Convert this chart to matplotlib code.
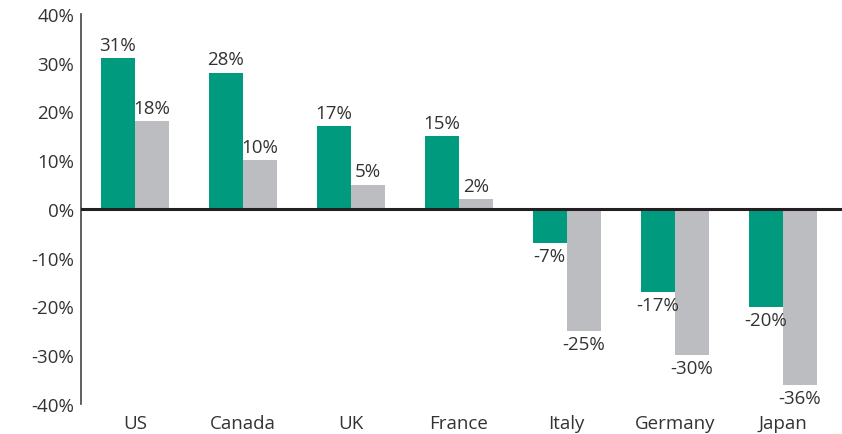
import matplotlib
matplotlib.use("Agg")
import matplotlib.pyplot as plt
import numpy as np

categories = ["US", "Canada", "UK", "France", "Italy", "Germany", "Japan"]
series_green = [31, 28, 17, 15, -7, -17, -20]
series_grey = [18, 10, 5, 2, -25, -30, -36]
yticks = [-40, -30, -20, -10, 0, 10, 20, 30, 40]

plt.rcParams['font.family'] = ['Open Sans', 'DejaVu Sans']
text_color = '#333333'
fs = 13.5

fig = plt.figure(figsize=(8.42, 4.35), dpi=100)
ax = fig.add_axes([81 / 842, 1 - 405 / 435, 1 - 81 / 842, (405 - 15) / 435])

x = np.arange(len(categories))
w = 0.315
b1 = ax.bar(x - w / 2, series_green, w, color='#009B7F', zorder=2)
b2 = ax.bar(x + w / 2, series_grey, w, color='#BCBDC0', zorder=2)

for bars, vals in ((b1, series_green), (b2, series_grey)):
    for rect, v in zip(bars, vals):
        cx = rect.get_x() + rect.get_width() / 2
        if v >= 0:
            ax.annotate(f"{v}%", (cx, v), xytext=(0, 3), textcoords='offset points',
                        ha='center', va='bottom', fontsize=fs, color=text_color)
        else:
            ax.annotate(f"{v}%", (cx, v), xytext=(0, -3), textcoords='offset points',
                        ha='center', va='top', fontsize=fs, color=text_color)

ax.axhline(0, color='#231F20', linewidth=2.2, zorder=3)
ax.set_ylim(-40, 40)
ax.set_xlim(-0.5, 6.55)
ax.set_yticks(yticks)
ax.set_yticklabels([f"{t}%" for t in yticks])
ax.set_xticks(x)
ax.set_xticklabels(categories)
ax.tick_params(axis='both', length=0, labelsize=fs, labelcolor=text_color)
ax.tick_params(axis='y', pad=5)
ax.tick_params(axis='x', pad=7)
for s in ('top', 'right', 'bottom'):
    ax.spines[s].set_visible(False)
ax.spines['left'].set_color('#444444')
ax.spines['left'].set_linewidth(1.2)

fig.savefig("out.png", dpi=100)
